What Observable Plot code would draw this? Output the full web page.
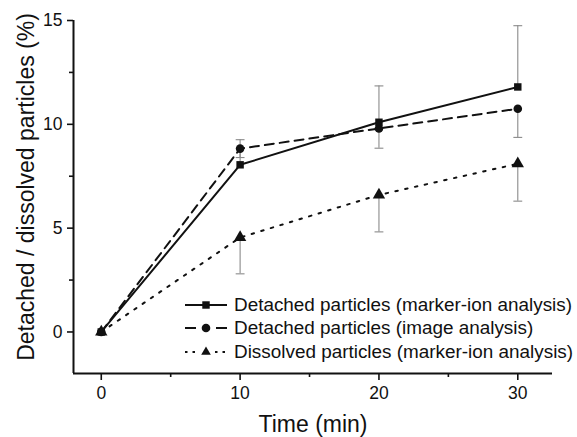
<!DOCTYPE html>
<html>
<head>
<meta charset="utf-8">
<script src="https://cdn.jsdelivr.net/npm/d3@7"></script>
<script src="https://cdn.jsdelivr.net/npm/@observablehq/plot@0.6"></script>
<style>
  html, body { margin: 0; padding: 0; background: #fff; }
  #wrap { position: relative; width: 577px; height: 437px; font-family: "Liberation Sans", Arial, sans-serif; }
  #legend { position: absolute; left: 185px; top: 293px; color: #111; font-size: 18.9px; }
  .row { display: flex; align-items: center; height: 23.5px; }
  .row svg { width: 44px; height: 20px; margin-right: 5px; overflow: visible; }
</style>
</head>
<body>
<div id="wrap"></div>
<script>
// Data
const time = [0, 10, 20, 30];
const detachedMarkerIon = [0, 8.05, 10.1, 11.8];
const detachedImage = [0, 8.83, 9.8, 10.75];
const dissolvedMarkerIon = [0, 4.55, 6.6, 8.1];
// error-bar end values (one-sided bars as drawn)
const detachedMarkerIonErrEnd = [0, 9.26, 11.85, 14.75];
const detachedImageErrEnd = [0, 8.4, 8.85, 9.37];
const dissolvedMarkerIonErrEnd = [0, 2.8, 4.82, 6.3];

const seriesNames = [
  "Detached particles (marker-ion analysis)",
  "Detached particles (image analysis)",
  "Dissolved particles (marker-ion analysis)"
];
const xTicks = [0, 10, 20, 30];
const xMinor = [5, 15, 25];
const yTicks = [0, 5, 10, 15];
const yMinor = [2.5, 7.5, 12.5];
const xTitle = "Time (min)";
const yTitle = "Detached / dissolved particles (%)";

const series = [
  {name: seriesNames[0], vals: detachedMarkerIon, err: detachedMarkerIonErrEnd, symbol: "square", dash: null, r: 4.2},
  {name: seriesNames[1], vals: detachedImage, err: detachedImageErrEnd, symbol: "circle", dash: "9,6", r: 4.3},
  {name: seriesNames[2], vals: dissolvedMarkerIon, err: dissolvedMarkerIonErrEnd, symbol: "triangle", dash: "2.5,7.5", r: 4.6}
];
const rows = series.map(s => time.map((t, i) => ({t, v: s.vals[i], e: s.err[i], name: s.name})));
const errRows = rows.flat().filter(d => d.t > 0);

const cap = {draw(ctx, size) { const w = Math.sqrt(size); ctx.moveTo(-w / 2, 0); ctx.lineTo(w / 2, 0); }};
const font = "Liberation Sans, Arial, sans-serif";

const marks = [];
// error bars
marks.push(Plot.ruleX(errRows, {x: "t", y1: "v", y2: "e", stroke: "#8a8a8a", strokeWidth: 1.1}));
marks.push(Plot.dot(errRows, {x: "t", y: "e", symbol: cap, r: 5, stroke: "#8a8a8a", strokeWidth: 1.1, fill: "none"}));
// lines and markers (dissolved first)
[2, 1, 0].forEach(k => {
  const s = series[k];
  marks.push(Plot.line(rows[k], {x: "t", y: "v", stroke: "#111", strokeWidth: 2, strokeDasharray: s.dash}));
});
[2, 1, 0].forEach(k => {
  const s = series[k];
  marks.push(Plot.dot(rows[k], {x: "t", y: "v", symbol: s.symbol, r: s.r, fill: "#111", stroke: "none"}));
});
// axes
marks.push(Plot.ruleX([-2], {stroke: "#111", strokeWidth: 2}));
marks.push(Plot.ruleY([-2], {stroke: "#111", strokeWidth: 2}));
marks.push(Plot.axisX({ticks: xTicks, tickSize: 7, tickPadding: 6, fontSize: 17.5, label: null, tickFormat: d => String(d), strokeWidth: 1.6, color: "#111"}));
marks.push(Plot.axisX({ticks: xMinor, tickSize: 4, tickPadding: 0, label: null, tickFormat: () => "", strokeWidth: 1.6}));
marks.push(Plot.axisY({ticks: yTicks, tickSize: 6, tickPadding: 5, fontSize: 17.5, label: null, tickFormat: d => String(d), strokeWidth: 1.6, color: "#111"}));
marks.push(Plot.axisY({ticks: yMinor, tickSize: 4, tickPadding: 0, label: null, tickFormat: () => "", strokeWidth: 1.6}));
// titles
marks.push(Plot.text([xTitle], {frameAnchor: "bottom", dy: 51, lineAnchor: "middle", textAnchor: "middle", fontSize: 23, fill: "#111"}));
marks.push(Plot.text([yTitle], {frameAnchor: "left", dx: -47, dy: -10, rotate: -90, lineAnchor: "middle", textAnchor: "middle", fontSize: 23, fill: "#111"}));

const chart = Plot.plot({
  width: 577,
  height: 437,
  marginLeft: 73,
  marginRight: 25,
  marginTop: 20,
  marginBottom: 64,
  x: {domain: [-2, 32.5]},
  y: {domain: [-2, 15]},
  style: {fontFamily: font, color: "#111", background: "#fff", overflow: "visible"},
  marks
});
const wrap = document.getElementById("wrap");
wrap.appendChild(chart);

// legend overlay
const legend = document.createElement("div");
legend.id = "legend";
series.forEach(s => {
  const row = document.createElement("div");
  row.className = "row";
  const svg = d3.create("svg").attr("viewBox", "0 -10 44 20");
  if (s.symbol === "circle") {
    svg.append("line").attr("x1", 0).attr("x2", 11).attr("y1", 0).attr("y2", 0).attr("stroke", "#111").attr("stroke-width", 2);
    svg.append("line").attr("x1", 31).attr("x2", 42).attr("y1", 0).attr("y2", 0).attr("stroke", "#111").attr("stroke-width", 2);
  } else {
    svg.append("line").attr("x1", 0).attr("x2", 42).attr("y1", 0).attr("y2", 0).attr("stroke", "#111").attr("stroke-width", 2)
      .attr("stroke-dasharray", s.dash ? "2.5,5" : null);
  }
  const sym = s.symbol === "square" ? d3.symbolSquare : s.symbol === "circle" ? d3.symbolCircle : d3.symbolTriangle2;
  if (s.symbol === "triangle") svg.append("rect").attr("x", 13).attr("y", -6).attr("width", 16).attr("height", 12).attr("fill", "#fff");
  svg.append("path").attr("transform", "translate(21,0)").attr("d", d3.symbol(sym, Math.PI * s.r * s.r)()).attr("fill", "#111");
  row.appendChild(svg.node());
  const span = document.createElement("span");
  span.textContent = s.name;
  row.appendChild(span);
  legend.appendChild(row);
});
wrap.appendChild(legend);
</script>
</body>
</html>
